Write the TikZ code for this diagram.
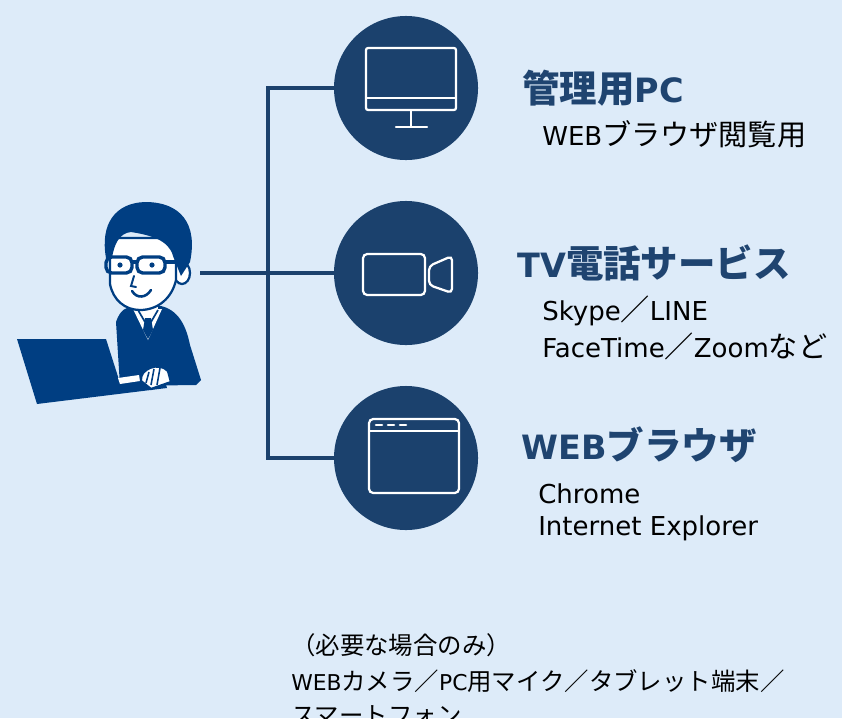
\documentclass[tikz,border=0pt]{standalone}
\usepackage{fontspec}
\setmainfont{DejaVu Sans}
\newfontfamily\ja[Scale=1.12]{Noto Sans CJK JP}
\usetikzlibrary{positioning}
\definecolor{bgblue}{RGB}{221,235,249}
\definecolor{navy}{RGB}{27,65,109}
\definecolor{suit}{RGB}{0,62,130}
\definecolor{headtext}{RGB}{31,68,112}
\tikzset{
    hub/.style = {circle, fill=navy, minimum size=3.6cm, inner sep=0pt},
    link/.style = {draw=navy, line width=2.8pt},
    icon/.style = {draw=white, line width=1.6pt, rounded corners=1.5pt},
    head/.style = {anchor=base west, inner sep=0pt, text=headtext, font=\fontsize{23.8}{28}\selectfont\bfseries},
    note/.style = {anchor=base west, inner sep=0pt, text=black, font=\fontsize{18.5}{22}\selectfont},
    small/.style = {anchor=base west, inner sep=0pt, text=black, font=\fontsize{15.5}{19}\selectfont},
    skin/.style = {fill=white, draw=suit, line width=1.6pt, line join=round},
}
\newcommand{\J}[1]{{\ja #1}}

\begin{document}
\begin{tikzpicture}[x=0.025cm, y=-0.025cm]
\clip (0,0) rectangle (842,718);
\fill[bgblue] (0,0) rectangle (842,718);

% the three services
\node[hub] (pc) at (406,88) {};
\node[hub] (tv) at (406,273) {};
\node[hub] (web) at (406,458) {};
%
\coordinate (me) at (200,273);
\coordinate (fork) at (268,273);
\draw[link] (me) -- (tv);
\draw[link] (pc) -| (fork);
\draw[link] (web) -| (fork);

% monitor
\draw[icon] (366,48) rectangle (456,110);
\draw[icon] (366,98) -- (456,98);
\draw[icon] (411,110) -- (411,127);
\draw[icon, line cap=round] (396,127) -- (427,127);
% camera
\draw[icon, rounded corners=3pt] (363,254) rectangle (425,295);
\draw[icon, rounded corners=3pt] (429,266) -- (452,256) -- (452,293) -- (429,285) -- cycle;
% browser window
\draw[icon, rounded corners=3pt] (369,419) rectangle (459,493);
\draw[icon] (369,431) -- (459,431);
\foreach \x in {379,391,403}
  \draw[white, line width=1.8pt, line cap=round] (\x-3,425) -- (\x+3,425);

% person at the laptop
\fill[suit] (116,322) .. controls (120,310) and (126,307) .. (134,306) -- (161,306)
  .. controls (178,310) and (186,325) .. (190,345) -- (201,380) -- (196,385) -- (120,386) -- cycle;
\fill[white] (138,298) rectangle (158,311);
\fill[white] (133,309) -- (162,309) -- (148,340) -- cycle;
\draw[suit, line width=1.2pt] (138,310) -- (145,322) (158,310) -- (151,322);
\fill[suit] (145,318) -- (151,318) -- (153,330) -- (148,339) -- (143,330) -- cycle;
\draw[skin] (182,273) ellipse [x radius=8, y radius=11];
\draw[skin] (110,238) -- (110,284) .. controls (113,300) and (125,310) .. (140,310)
  .. controls (158,310) and (172,298) .. (176,280) -- (176,238) -- cycle;
\fill[suit] (106,258) .. controls (100,224) and (115,203) .. (145,202)
  .. controls (181,202) and (198,224) .. (190,262) -- (181,276) -- (173,256)
  .. controls (169,240) and (150,235) .. (131,232) .. controls (119,233) and (114,245) .. (112,258) -- cycle;
\draw[suit, line width=2.4pt, rounded corners=4pt] (106,257) rectangle (132,273);
\draw[suit, line width=2.4pt, rounded corners=4pt] (137,257) rectangle (165,273);
\draw[suit, line width=2.4pt] (132,262) -- (137,262) (165,262) -- (176,262);
\fill[suit] (120,265) circle [radius=2.6] (152,265) circle [radius=2.6];
\draw[suit, line width=1.4pt, line cap=round] (134,276) -- (131,286) -- (136,287);
\draw[suit, line width=1.8pt, line cap=round] (132,291) .. controls (137,299) and (146,298) .. (151,290);
%
\fill[suit] (17,339) -- (106,339) -- (121,386) -- (164,377) -- (167,388) -- (37,404) -- cycle;
\fill[white] (118,378) -- (139,375) -- (140,381) -- (120,384) -- cycle;
\draw[skin] (141,381) .. controls (139,369) and (159,361) .. (168,371) -- (171,382) -- (151,389) -- cycle;
\draw[suit, line width=1.1pt] (149,372) -- (146,383) (154,369) -- (151,385) (160,368) -- (157,385);

% labels
\node[head] (pctitle) at (522,102) {\J{管理用}PC};
\node[note] (pcnote) at (542,145) {WEB\J{ブラウザ閲覧用}};
\node[head] (tvtitle) at (517,277) {TV\J{電話サービス}};
\node[note] (tvnote) at (542,320) {Skype\J{／}LINE};
\node[note] (tvnote2) at (542,357) {FaceTime\J{／}Zoom\J{など}};
\node[head] (webtitle) at (521,459) {WEB\J{ブラウザ}};
\node[note] (webnote) at (538,503) {Chrome};
\node[note] (webnote2) at (538,535) {Internet Explorer};
%
\node[small] (extra) at (291,654) {\J{（必要な場合のみ）}};
\node[small] (extra2) at (291,690) {WEB\J{カメラ／}PC\J{用マイク／タブレット端末／}};
\node[small] (extra3) at (291,724) {\J{スマートフォン}};

\end{tikzpicture}
\end{document}
